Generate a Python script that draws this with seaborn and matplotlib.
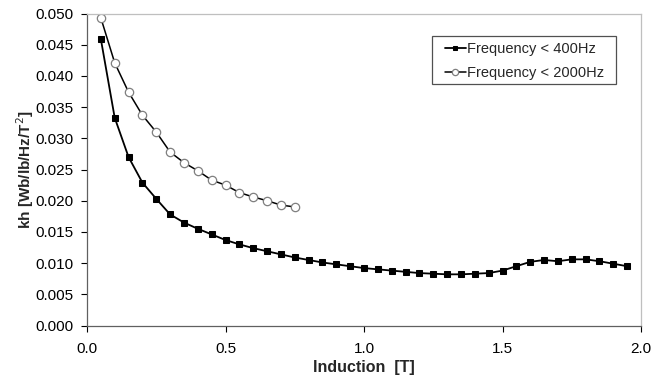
import matplotlib
matplotlib.use("Agg")
import matplotlib.pyplot as plt
from matplotlib.patches import Rectangle
import seaborn as sns
import pandas as pd
import numpy as np

induction_400 = [0.05, 0.10, 0.15, 0.20, 0.25, 0.30, 0.35, 0.40, 0.45, 0.50,
                 0.55, 0.60, 0.65, 0.70, 0.75, 0.80, 0.85, 0.90, 0.95, 1.00,
                 1.05, 1.10, 1.15, 1.20, 1.25, 1.30, 1.35, 1.40, 1.45, 1.50,
                 1.55, 1.60, 1.65, 1.70, 1.75, 1.80, 1.85, 1.90, 1.95]
kh_400 = [0.0459, 0.0333, 0.0270, 0.0229, 0.0203, 0.0178, 0.0165, 0.0155, 0.0146, 0.0137,
          0.0130, 0.0124, 0.0119, 0.0114, 0.0109, 0.0105, 0.0101, 0.0098, 0.0095, 0.0092,
          0.0090, 0.0088, 0.0086, 0.0084, 0.0083, 0.0082, 0.0082, 0.0083, 0.0084, 0.0088,
          0.0095, 0.0102, 0.0105, 0.0103, 0.0106, 0.0106, 0.0103, 0.0099, 0.0095]
induction_2000 = [0.05, 0.10, 0.15, 0.20, 0.25, 0.30, 0.35, 0.40, 0.45, 0.50,
                  0.55, 0.60, 0.65, 0.70, 0.75]
kh_2000 = [0.0493, 0.0421, 0.0374, 0.0337, 0.0310, 0.0278, 0.0261, 0.0248, 0.0233, 0.0225,
           0.0213, 0.0206, 0.0200, 0.0193, 0.0190]
labels = ["Frequency < 400Hz", "Frequency < 2000Hz"]
x_ticks = [0.0, 0.5, 1.0, 1.5, 2.0]
y_ticks = [0.000, 0.005, 0.010, 0.015, 0.020, 0.025, 0.030, 0.035, 0.040, 0.045, 0.050]

sns.set_style("white")
plt.rcParams['font.family'] = ['Liberation Sans', 'DejaVu Sans']

df400 = pd.DataFrame({"Induction": induction_400, "kh": kh_400})
df2000 = pd.DataFrame({"Induction": induction_2000, "kh": kh_2000})

W, H = 665, 379
fig = plt.figure(figsize=(W / 100, H / 100), dpi=100)
ax = fig.add_axes([87/W, 1 - 325.5/H, (641-87)/W, (325.5-13.5)/H])

sns.lineplot(data=df400, x="Induction", y="kh", ax=ax, color="black", lw=1.3,
             marker="s", markersize=4.5, markerfacecolor="black", markeredgecolor="black",
             label=labels[0])
sns.lineplot(data=df2000, x="Induction", y="kh", ax=ax, color="black", lw=1.1,
             marker="o", markersize=6, markerfacecolor="white", markeredgecolor="#7f7f7f",
             markeredgewidth=0.9, label=labels[1])

ax.set_xlim(0, 2.0)
ax.set_ylim(0, 0.050)
ax.set_xticks(x_ticks)
ax.set_xticklabels([f"{v:.1f}" for v in x_ticks])
ax.set_yticks(y_ticks)
ax.set_yticklabels([f"{v:.3f}" for v in y_ticks])
ax.tick_params(axis="both", which="major", labelsize=11, colors="black",
               direction="out", length=4, width=0.8, bottom=True, left=True)
ax.tick_params(axis="x", pad=8)
ax.tick_params(axis="y", pad=6)
for s in ["top", "right"]:
    ax.spines[s].set_color("#bfbfbf")
    ax.spines[s].set_linewidth(0.9)
for s in ["left", "bottom"]:
    ax.spines[s].set_color("#606060")
    ax.spines[s].set_linewidth(0.9)
ax.set_xlabel("Induction  [T]", fontsize=11.5, fontweight="bold", labelpad=3)
ax.set_ylabel("kh [Wb/lb/Hz/T$^2$]", fontsize=11, fontweight="bold", labelpad=-1)

leg = ax.legend(loc="upper left", bbox_to_anchor=(440/W, 1 - 37/H),
                bbox_transform=fig.transFigure, frameon=False,
                fontsize=10.5, handlelength=1.4, handletextpad=0.1, borderpad=0.35,
                borderaxespad=0, labelspacing=0.7, markerscale=0.75)
fig.patches.append(Rectangle((432/W, 1 - 84/H), (616-432)/W, (84-36)/H,
                             transform=fig.transFigure, fill=False,
                             edgecolor="#505050", linewidth=0.9, zorder=5))

fig.savefig("out.png", dpi=100)
